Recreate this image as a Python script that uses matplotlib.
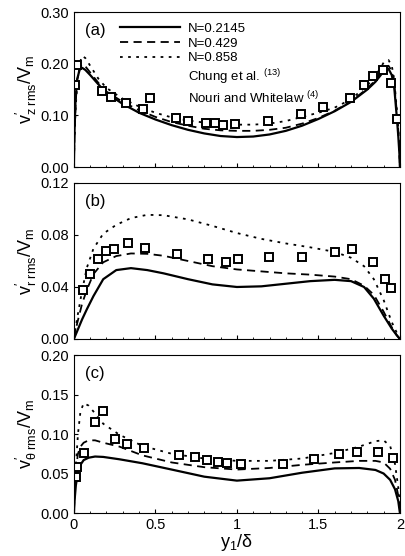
import numpy as np
import matplotlib
matplotlib.use("Agg")
import matplotlib.pyplot as plt
from matplotlib.lines import Line2D

plt.rcParams['font.family'] = ['Liberation Sans', 'DejaVu Sans']
plt.rcParams['mathtext.fontset'] = 'custom'
plt.rcParams['mathtext.rm'] = 'Liberation Sans'
plt.rcParams['mathtext.it'] = 'Liberation Sans:italic'

# panel (a): axial rms velocity
x_a = [0, 0.003, 0.01, 0.02, 0.035, 0.05, 0.07, 0.1, 0.15, 0.2, 0.3, 0.4, 0.5, 0.6,
       0.7, 0.8, 0.9, 1.0, 1.1, 1.2, 1.3, 1.4, 1.5, 1.6, 1.7, 1.8, 1.85, 1.9, 1.93,
       1.95, 1.965, 1.98, 1.99, 1.997, 2.0]
solid_a = [0, 0.06, 0.13, 0.17, 0.188, 0.192, 0.188, 0.178, 0.16, 0.143, 0.122, 0.105,
           0.092, 0.081, 0.072, 0.065, 0.06, 0.058, 0.059, 0.063, 0.07, 0.08, 0.093,
           0.108, 0.126, 0.15, 0.165, 0.185, 0.19, 0.178, 0.155, 0.1, 0.06, 0.025, 0]
dashed_a = [0, 0.055, 0.12, 0.168, 0.192, 0.199, 0.195, 0.183, 0.163, 0.146, 0.126,
            0.11, 0.097, 0.087, 0.08, 0.074, 0.071, 0.07, 0.07, 0.072, 0.076, 0.084,
            0.095, 0.109, 0.127, 0.152, 0.168, 0.19, 0.196, 0.186, 0.163, 0.11, 0.07,
            0.03, 0]
dotted_a = [0, 0.05, 0.11, 0.16, 0.2, 0.215, 0.211, 0.196, 0.171, 0.153, 0.132, 0.117,
            0.105, 0.096, 0.09, 0.086, 0.083, 0.082, 0.082, 0.084, 0.089, 0.097, 0.105,
            0.115, 0.131, 0.158, 0.176, 0.202, 0.207, 0.196, 0.17, 0.115, 0.075, 0.035, 0]
exp_xa = [0.006, 0.016, 0.17, 0.227, 0.319, 0.425, 0.626, 0.703, 0.808, 0.865, 0.912,
          0.99, 1.188, 1.393, 1.53, 1.693, 1.78, 1.836, 1.894, 1.943, 1.98]
exp_ya = [0.159, 0.197, 0.148, 0.136, 0.124, 0.112, 0.094, 0.09, 0.086, 0.085, 0.081,
          0.084, 0.09, 0.103, 0.117, 0.133, 0.159, 0.176, 0.188, 0.163, 0.092]

# panel (b): radial rms velocity
x_b = [0, 0.02, 0.05, 0.08, 0.12, 0.18, 0.26, 0.35, 0.45, 0.55, 0.7, 0.85, 1.0, 1.15,
       1.3, 1.45, 1.6, 1.7, 1.78, 1.84, 1.9, 1.95, 1.98, 2.0]
solid_b = [0, 0.006, 0.015, 0.023, 0.033, 0.046, 0.053, 0.0545, 0.053, 0.0505, 0.046,
           0.042, 0.04, 0.0405, 0.0425, 0.0445, 0.0455, 0.0445, 0.04, 0.031, 0.018,
           0.008, 0.003, 0]
dashed_b = [0, 0.012, 0.027, 0.038, 0.05, 0.059, 0.0638, 0.0658, 0.0655, 0.064, 0.06,
            0.056, 0.0535, 0.052, 0.0505, 0.0495, 0.048, 0.046, 0.041, 0.034, 0.021,
            0.009, 0.003, 0]
dotted_b = [0, 0.016, 0.037, 0.055, 0.0695, 0.081, 0.0878, 0.093, 0.0955, 0.0952, 0.092,
            0.087, 0.0815, 0.077, 0.0735, 0.0705, 0.067, 0.0625, 0.056, 0.046, 0.03,
            0.013, 0.005, 0]
exp_xb = [0.057, 0.098, 0.145, 0.194, 0.245, 0.333, 0.436, 0.63, 0.824, 0.933, 1.008,
          1.198, 1.4, 1.601, 1.707, 1.836, 1.908, 1.943]
exp_yb = [0.0377, 0.05, 0.0615, 0.068, 0.069, 0.074, 0.0697, 0.0654, 0.0613, 0.0595,
          0.0613, 0.0628, 0.0628, 0.0667, 0.069, 0.059, 0.046, 0.039]

# panel (c): azimuthal rms velocity
x_c = [0, 0.005, 0.012, 0.025, 0.04, 0.06, 0.09, 0.13, 0.18, 0.28, 0.42, 0.6, 0.8, 1.0,
       1.2, 1.4, 1.6, 1.75, 1.85, 1.9, 1.94, 1.97, 1.99, 2.0]
solid_c = [0, 0.018, 0.035, 0.052, 0.061, 0.067, 0.07, 0.0715, 0.071, 0.068, 0.063,
           0.055, 0.046, 0.041, 0.044, 0.051, 0.0565, 0.057, 0.0545, 0.05, 0.042, 0.03,
           0.015, 0]
dashed_c = [0, 0.03, 0.055, 0.075, 0.084, 0.089, 0.092, 0.092, 0.089, 0.084, 0.073,
            0.064, 0.058, 0.055, 0.057, 0.061, 0.064, 0.066, 0.066, 0.064, 0.056, 0.042,
            0.022, 0.005]
dotted_c = [0, 0.03, 0.06, 0.1, 0.128, 0.139, 0.136, 0.126, 0.113, 0.099, 0.085, 0.075,
            0.069, 0.066, 0.066, 0.069, 0.076, 0.084, 0.091, 0.092, 0.085, 0.062, 0.032,
            0.01]
exp_xc = [0.012, 0.016, 0.06, 0.131, 0.18, 0.252, 0.323, 0.43, 0.646, 0.742, 0.818,
          0.885, 0.937, 1.023, 1.28, 1.474, 1.628, 1.734, 1.867, 1.959]
exp_yc = [0.046, 0.058, 0.0755, 0.115, 0.129, 0.0932, 0.0873, 0.0818, 0.0734, 0.0705,
          0.067, 0.065, 0.0629, 0.0616, 0.062, 0.069, 0.0743, 0.0776, 0.0776, 0.07]

labels = ['N=0.2145', 'N=0.429', 'N=0.858']
ylabels = [r"$\mathregular{v^{\prime}_{z\ rms}/V_m}$",
           r"$\mathregular{v^{\prime}_{r\ rms}/V_m}$",
           r"$\mathregular{v^{\prime}_{\theta\ rms}/V_m}$"]
panels = ['(a)', '(b)', '(c)']
yticks = [[0, 0.1, 0.2, 0.3], [0, 0.04, 0.08, 0.12], [0, 0.05, 0.1, 0.15, 0.2]]

fig = plt.figure(figsize=(4.06, 5.56), dpi=100)
pos = [[0.182, 0.6996, 0.803, 0.2788],
       [0.182, 0.3903, 0.803, 0.2806],
       [0.182, 0.0773, 0.803, 0.2842]]
data = [(x_a, solid_a, dashed_a, dotted_a, exp_xa, exp_ya),
        (x_b, solid_b, dashed_b, dotted_b, exp_xb, exp_yb),
        (x_c, solid_c, dashed_c, dotted_c, exp_xc, exp_yc)]

for i in range(3):
    ax = fig.add_axes(pos[i])
    x, s, d, dt, ex, ey = data[i]
    ax.plot(x, s, color='black', lw=1.6, label=labels[0])
    ax.plot(x, d, color='black', lw=1.3, dashes=(4.5, 3), label=labels[1])
    ax.plot(x, dt, color='black', lw=1.3, dashes=(1.5, 3), label=labels[2])
    ax.plot(ex, ey, 's', ms=6, mfc='white', mec='black', mew=1.4,
            label='Nouri and Whitelaw $^{(4)}$')
    ax.set_xlim(0, 2)
    ax.set_ylim(yticks[i][0], yticks[i][-1])
    ax.set_yticks(yticks[i])
    ax.set_yticklabels(['%.2f' % v for v in yticks[i]])
    ax.set_xticks([0, 0.5, 1, 1.5, 2])
    ax.set_xticks(np.arange(0, 2.01, 0.1), minor=True)
    ax.tick_params(direction='in', labelsize=10.5, length=3, width=0.8)
    ax.tick_params(which='minor', direction='in', length=1.5, width=0.6)
    ax.set_ylabel(ylabels[i], fontsize=13, labelpad=1)
    ax.text(0.035, 0.93, panels[i], transform=ax.transAxes, fontsize=12,
            va='top', ha='left')
    if i < 2:
        ax.set_xticklabels([])
    else:
        ax.set_xticklabels(['0', '0.5', '1', '1.5', '2'])
        ax.set_xlabel(r"$\mathregular{y_1/\delta}$", fontsize=13, labelpad=0)
    if i == 0:
        h, l = ax.get_legend_handles_labels()
        chung = Line2D([], [], ls='none')
        h = h[:3] + [chung, h[3]]
        l = l[:3] + ['Chung et al. $^{(13)}$', l[3]]
        ax.legend(h, l, loc='upper left', bbox_to_anchor=(0.12, 0.975),
                  frameon=False, fontsize=9.5, handlelength=4.6,
                  handletextpad=0.6, labelspacing=0.2, borderpad=0)

fig.savefig('out.png', dpi=100)
